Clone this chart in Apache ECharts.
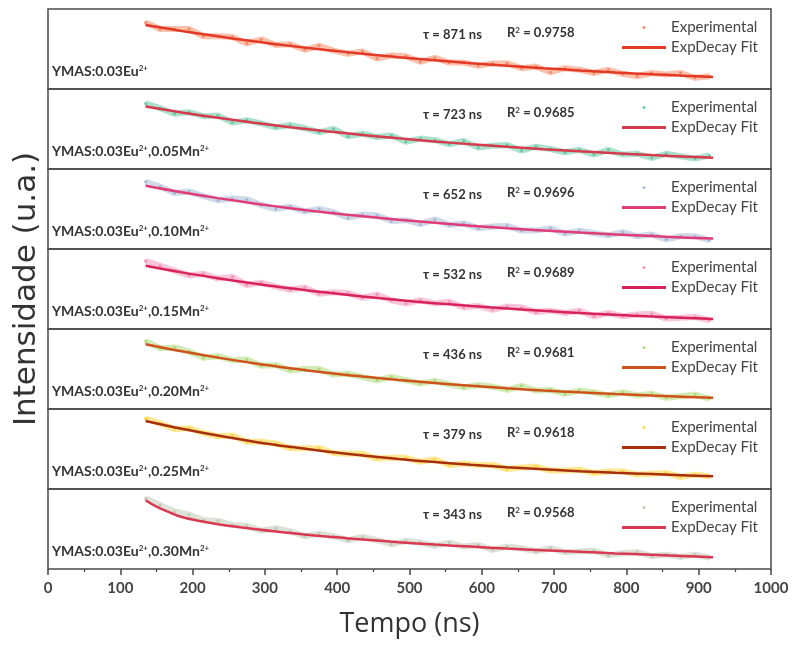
<!DOCTYPE html>
<html>
<head>
<meta charset="utf-8">
<script src="https://cdn.jsdelivr.net/npm/echarts@6/dist/echarts.min.js"></script>
<style>
html, body { margin: 0; padding: 0; background: #fff; }
#chart { width: 794px; height: 645px; }
</style>
</head>
<body>
<div id="chart"></div>
<script>
// time axis of the experimental decay samples (ns)
var expTime = [135,155,175,195,215,235,255,275,295,315,335,355,375,395,415,435,455,475,495,515,
               535,555,575,595,615,635,655,675,695,715,735,755,775,795,815,835,855,875,895,915];

// normalised intensity of each panel (0 = panel bottom, 1 = panel top)
var expEu   = [0.83,0.75,0.75,0.75,0.66,0.66,0.65,0.57,0.62,0.55,0.56,0.49,0.54,0.48,0.44,0.47,0.38,0.42,0.41,0.34,
               0.39,0.33,0.33,0.29,0.32,0.32,0.26,0.28,0.21,0.26,0.24,0.20,0.24,0.19,0.16,0.20,0.18,0.20,0.14,0.16];
var expMn05 = [0.82,0.76,0.69,0.71,0.66,0.67,0.58,0.61,0.57,0.52,0.55,0.51,0.46,0.50,0.41,0.44,0.40,0.42,0.34,0.38,
               0.36,0.31,0.35,0.27,0.29,0.30,0.23,0.28,0.25,0.21,0.24,0.18,0.24,0.18,0.19,0.14,0.19,0.16,0.13,0.17];
var expMn10 = [0.84,0.78,0.70,0.72,0.66,0.61,0.63,0.62,0.55,0.50,0.53,0.47,0.50,0.46,0.39,0.43,0.42,0.35,0.36,0.31,
               0.37,0.30,0.32,0.26,0.28,0.29,0.23,0.23,0.26,0.19,0.23,0.20,0.17,0.21,0.16,0.18,0.12,0.16,0.16,0.11];
var expMn15 = [0.85,0.79,0.73,0.67,0.69,0.63,0.65,0.55,0.58,0.53,0.49,0.52,0.44,0.46,0.45,0.39,0.43,0.36,0.32,0.36,
               0.32,0.34,0.27,0.29,0.24,0.28,0.27,0.21,0.23,0.20,0.23,0.16,0.20,0.16,0.18,0.19,0.13,0.14,0.15,0.11];
var expMn20 = [0.85,0.76,0.77,0.72,0.64,0.66,0.61,0.62,0.54,0.55,0.48,0.50,0.50,0.43,0.44,0.40,0.36,0.40,0.36,0.32,
               0.35,0.31,0.27,0.30,0.28,0.24,0.29,0.23,0.24,0.19,0.23,0.21,0.17,0.21,0.17,0.19,0.14,0.16,0.18,0.13];
var expMn25 = [0.88,0.82,0.75,0.76,0.70,0.66,0.67,0.59,0.59,0.57,0.51,0.51,0.51,0.45,0.44,0.44,0.38,0.39,0.39,0.34,
               0.37,0.30,0.32,0.30,0.30,0.25,0.27,0.28,0.23,0.23,0.24,0.20,0.22,0.22,0.18,0.19,0.20,0.15,0.18,0.16];
var expMn30 = [0.88,0.80,0.72,0.68,0.61,0.60,0.55,0.54,0.48,0.51,0.47,0.41,0.44,0.41,0.36,0.40,0.36,0.31,0.35,0.33,
               0.29,0.33,0.28,0.30,0.24,0.28,0.26,0.22,0.26,0.21,0.22,0.23,0.17,0.20,0.21,0.16,0.18,0.15,0.18,0.14];

// ExpDecay fit curves
var fitTime = [135,185,235,285,335,385,435,485,535,585,635,685,735,785,835,885,920];
var fitEu   = [0.800,0.726,0.658,0.596,0.539,0.488,0.441,0.397,0.358,0.322,0.290,0.260,0.232,0.207,0.184,0.164,0.150];
var fitMn05 = [0.780,0.707,0.640,0.579,0.523,0.473,0.426,0.383,0.345,0.309,0.277,0.248,0.221,0.196,0.174,0.154,0.140];
var fitMn10 = [0.790,0.709,0.636,0.570,0.510,0.457,0.409,0.365,0.327,0.291,0.259,0.231,0.205,0.182,0.161,0.142,0.130];
var fitMn15 = [0.790,0.708,0.635,0.569,0.508,0.455,0.406,0.362,0.323,0.288,0.256,0.227,0.201,0.177,0.156,0.137,0.125];
var fitMn20 = [0.810,0.721,0.642,0.572,0.510,0.454,0.406,0.363,0.324,0.290,0.259,0.232,0.208,0.187,0.168,0.151,0.140];
var fitMn25 = [0.850,0.753,0.668,0.592,0.527,0.469,0.419,0.374,0.336,0.302,0.272,0.246,0.223,0.203,0.186,0.170,0.160];
var fitTimeMn30 = [135,150,170,185,210,235,285,335,385,435,485,535,585,635,685,735,785,835,885,920];
var fitMn30 = [0.86,0.78,0.70,0.65,0.60,0.56,0.50,0.45,0.405,0.37,0.335,0.305,0.28,0.255,0.235,0.215,0.195,0.178,0.16,0.148];

var tauNs = [871, 723, 652, 532, 436, 379, 343];
var rSquared = ['0.9758', '0.9685', '0.9696', '0.9689', '0.9681', '0.9618', '0.9568'];
var mnLevels = ['', '0.05', '0.10', '0.15', '0.20', '0.25', '0.30'];

var panels = [
    { exp: expEu,   fitT: fitTime,     fit: fitEu   },
    { exp: expMn05, fitT: fitTime,     fit: fitMn05 },
    { exp: expMn10, fitT: fitTime,     fit: fitMn10 },
    { exp: expMn15, fitT: fitTime,     fit: fitMn15 },
    { exp: expMn20, fitT: fitTime,     fit: fitMn20 },
    { exp: expMn25, fitT: fitTime,     fit: fitMn25 },
    { exp: expMn30, fitT: fitTimeMn30, fit: fitMn30 }
];

var pointColors = ['#f5845a', '#5cc49c', '#9fb3d2', '#f28cb8', '#a8d870', '#ffd22a', '#b9c6b0'];
var fitColors   = ['#e23a26', '#d63a4e', '#e03d78', '#d8245a', '#cf521c', '#a8300e', '#d93a52'];

var PANEL_TOP = 9, PANEL_H = 80, LEFT = 48, RIGHT = 23;

function pairs(xs, ys) {
    return xs.map(function (x, k) { return [x, ys[k]]; });
}

var chart = echarts.init(document.getElementById('chart'));

var grids = [], xAxes = [], yAxes = [], series = [], legends = [], graphics = [];
var boldText = { fontFamily: 'Lato', fontWeight: 'bold', fontSize: 13, fill: '#333' };
var supText = { fontFamily: 'Lato', fontWeight: 'bold', fontSize: 8, fill: '#333', verticalAlign: 'top' };

panels.forEach(function (p, i) {
    var top = PANEL_TOP + PANEL_H * i;
    var last = i === panels.length - 1;

    grids.push({
        left: LEFT, right: RIGHT, top: top, height: PANEL_H,
        show: true, borderColor: '#4a4a4a', borderWidth: 1.5
    });

    xAxes.push({
        gridIndex: i, type: 'value', min: 0, max: 1000, interval: 100,
        axisLine: { show: false },
        splitLine: { show: false },
        axisTick: { show: last, length: 6, lineStyle: { color: '#444', width: 1.5 } },
        minorTick: { show: last, splitNumber: 2, length: 3, lineStyle: { color: '#444', width: 1.2 } },
        axisLabel: {
            show: last, margin: 12, fontSize: 15, fontWeight: 'bold', color: '#444', fontFamily: 'Lato',
            formatter: function (v) { return String(v); }
        },
        name: last ? 'Tempo (ns)' : '',
        nameLocation: 'middle', nameGap: 42,
        nameTextStyle: { fontSize: 27, fontFamily: 'Open Sans', color: '#333' }
    });

    yAxes.push({
        gridIndex: i, type: 'value', min: 0, max: 1,
        axisLine: { show: false }, axisTick: { show: false },
        axisLabel: { show: false }, splitLine: { show: false },
        name: i === 3 ? 'Intensidade (u.a.)' : '',
        nameLocation: 'middle', nameGap: 6,
        nameTextStyle: { fontSize: 31, fontFamily: 'DejaVu Sans', color: '#333' }
    });

    series.push({
        name: 'Experimental#' + i, type: 'line',
        xAxisIndex: i, yAxisIndex: i,
        data: pairs(expTime, p.exp),
        symbol: 'circle', symbolSize: 3, showSymbol: true,
        itemStyle: { color: pointColors[i], opacity: 0.9 },
        lineStyle: { color: pointColors[i], width: 6, opacity: 0.5 },
        silent: true, z: 2
    });
    series.push({
        name: 'ExpDecay Fit#' + i, type: 'line',
        xAxisIndex: i, yAxisIndex: i,
        data: pairs(p.fitT, p.fit),
        smooth: 0.4, symbol: 'none',
        itemStyle: { color: fitColors[i] },
        lineStyle: { color: fitColors[i], width: 2.5 },
        silent: true, z: 3
    });

    legends.push({
        left: 617, top: top + 6, orient: 'vertical',
        itemGap: 5, itemWidth: 44, itemHeight: 3,
        selectedMode: false,
        data: [{ name: 'Experimental#' + i, icon: 'circle' }, { name: 'ExpDecay Fit#' + i, icon: 'rect' }],
        formatter: function (n) { return n.split('#')[0]; },
        textStyle: { fontSize: 15, color: '#444', fontFamily: 'Lato' }
    });

    graphics.push({
        type: 'text', left: 423, top: top + 19,
        style: { text: 'τ = ' + tauNs[i] + ' ns', fontFamily: 'Lato', fontWeight: 'bold', fontSize: 13, fill: '#333' }
    });
    graphics.push({
        type: 'text', left: 507, top: top + 17,
        style: {
            text: '{b|R}{s|2}{b| = ' + rSquared[i] + '}',
            rich: { b: boldText, s: supText }
        }
    });

    var label = '{b|YMAS:0.03Eu}{s|2+}';
    if (mnLevels[i]) label += '{b|,' + mnLevels[i] + 'Mn}{s|2+}';
    graphics.push({
        type: 'text', left: 52, top: top + PANEL_H - 25,
        style: {
            text: label,
            rich: {
                b: { fontFamily: 'Lato', fontWeight: 'bold', fontSize: 14, fill: '#333' },
                s: supText
            }
        }
    });
});

chart.setOption({
    animation: false,
    grid: grids,
    xAxis: xAxes,
    yAxis: yAxes,
    legend: legends,
    series: series,
    graphic: graphics
});
</script>
</body>
</html>
